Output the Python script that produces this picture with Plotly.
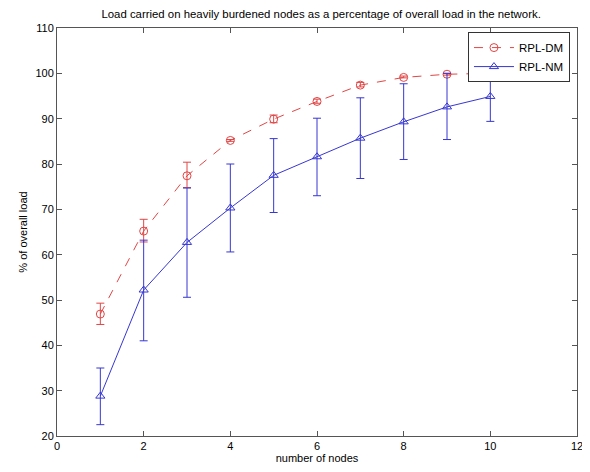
import plotly.graph_objects as go

nodes = [1, 2, 3, 4, 5, 6, 7, 8, 9, 10]

dm_mean = [46.9, 65.2, 77.4, 85.2, 89.9, 93.8, 97.4, 99.1, 99.8, 100.0]
dm_upper = [49.3, 67.8, 80.4, 85.4, 90.8, 94.3, 98.0, 99.4, 100.0, 100.2]
dm_lower = [44.6, 62.8, 74.8, 85.0, 89.1, 93.4, 97.0, 99.0, 99.6, 99.8]

nm_mean = [28.8, 52.2, 62.7, 70.3, 77.5, 81.6, 85.7, 89.3, 92.6, 94.9]
nm_upper = [35.0, 63.2, 74.7, 80.0, 85.6, 90.1, 94.6, 97.7, 100.0, 100.0]
nm_lower = [22.5, 41.0, 50.6, 60.6, 69.3, 73.0, 76.8, 81.0, 85.4, 89.4]

x_ticks = [0, 2, 4, 6, 8, 10, 12]
y_ticks = [20, 30, 40, 50, 60, 70, 80, 90, 100, 110]

red = "rgb(225,70,70)"
blue = "rgb(55,55,210)"

def err(mean, up, lo):
    return dict(type="data", symmetric=False,
                array=[u - m for u, m in zip(up, mean)],
                arrayminus=[m - l for m, l in zip(mean, lo)])

fig = go.Figure()
fig.add_trace(go.Scatter(
    x=nodes, y=dm_mean, name="RPL-DM", mode="lines+markers",
    line=dict(color=red, width=1, dash="dash"),
    marker=dict(symbol="circle-open", size=8, color=red, line=dict(width=1)),
    error_y=dict(**err(dm_mean, dm_upper, dm_lower), color=red, thickness=1, width=4),
))
fig.add_trace(go.Scatter(
    x=nodes, y=nm_mean, name="RPL-NM", mode="lines+markers",
    line=dict(color=blue, width=1),
    marker=dict(symbol="triangle-up-open", size=8, color=blue, line=dict(width=1)),
    error_y=dict(**err(nm_mean, nm_upper, nm_lower), color=blue, thickness=1, width=4),
))

axis_common = dict(
    showline=True, linecolor="#555", linewidth=1, mirror="ticks",
    ticks="inside", ticklen=5, tickcolor="#555", showgrid=False, zeroline=False,
    tickfont=dict(size=11, color="black"), automargin=False,
)

fig.update_layout(
    width=582, height=464,
    margin=dict(l=49, r=13, t=20, b=36),
    paper_bgcolor="white", plot_bgcolor="white",
    font=dict(family="Liberation Sans, Arial, sans-serif", size=11, color="black"),
    title=dict(text="Load carried on heavily burdened nodes as a percentage of overall load in the network.",
               x=0.538, xanchor="center", y=0.988, yanchor="middle",
               font=dict(size=11.4, color="black")),
    xaxis=dict(range=[0, 12], tickvals=x_ticks,
               title=dict(text="number of nodes", standoff=0, font=dict(size=11)),
               **axis_common),
    yaxis=dict(range=[20, 110], tickvals=y_ticks,
               title=dict(text="% of overall load", standoff=5, font=dict(size=11)),
               **axis_common),
    legend=dict(x=0.9865, y=0.99, xanchor="right", yanchor="top",
                bgcolor="white", bordercolor="#333", borderwidth=1,
                font=dict(size=11.5), tracegroupgap=0, itemwidth=40),
    showlegend=True,
)

fig.write_html("out.html")
